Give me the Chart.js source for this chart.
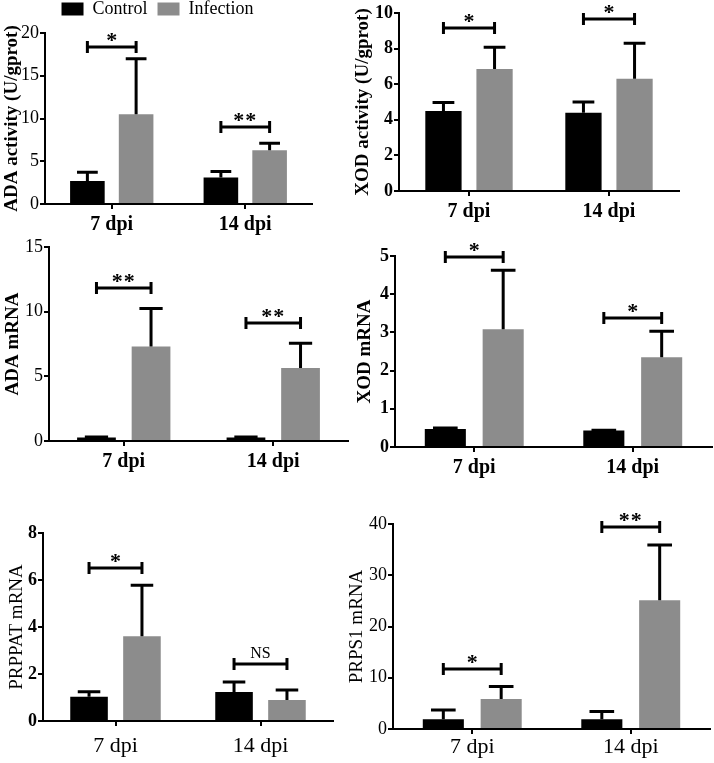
<!DOCTYPE html>
<html lang="en">
<head>
<meta charset="UTF-8">
<title>ADA, XOD, PRPPAT and PRPS1 after infection</title>
<script src="https://cdn.jsdelivr.net/npm/chart.js"></script>
<style>
  html, body { margin: 0; padding: 0; background: #fff; }
  body { width: 714px; height: 763px; position: relative; overflow: hidden; }
  canvas { position: absolute; }
</style>
</head>
<body>

<canvas id="adaAct"></canvas>
<canvas id="xodAct"></canvas>
<canvas id="adaMrna"></canvas>
<canvas id="xodMrna"></canvas>
<canvas id="prppat"></canvas>
<canvas id="prps1"></canvas>

<script>
const categories = ['7 dpi', '14 dpi'];
const groups = ['Control', 'Infection'];

// ADA activity (U/gprot)
const adaActControl = [2.7, 3.1];
const adaActControlSd = [1.0, 0.7];
const adaActInfection = [10.5, 6.3];
const adaActInfectionSd = [6.5, 0.8];
const adaActSigAt = [18.4, 9.0];
const adaActSig = ['*', '**'];
const adaActTicks = [0, 5, 10, 15, 20];

// XOD activity (U/gprot)
const xodActControl = [4.5, 4.4];
const xodActControlSd = [0.47, 0.6];
const xodActInfection = [6.86, 6.3];
const xodActInfectionSd = [1.22, 2.0];
const xodActSigAt = [9.18, 9.64];
const xodActSig = ['*', '*'];
const xodActTicks = [0, 2, 4, 6, 8, 10];

// ADA mRNA
const adaMrnaControl = [0.28, 0.28];
const adaMrnaControlSd = [0.03, 0.03];
const adaMrnaInfection = [7.3, 5.65];
const adaMrnaInfectionSd = [2.95, 1.9];
const adaMrnaSigAt = [11.8, 9.1];
const adaMrnaSig = ['**', '**'];
const adaMrnaTicks = [0, 5, 10, 15];

// XOD mRNA
const xodMrnaControl = [0.47, 0.43];
const xodMrnaControlSd = [0.03, 0.01];
const xodMrnaInfection = [3.08, 2.35];
const xodMrnaInfectionSd = [1.55, 0.68];
const xodMrnaSigAt = [4.97, 3.39];
const xodMrnaSig = ['*', '*'];
const xodMrnaTicks = [0, 1, 2, 3, 4, 5];

// PRPPAT mRNA
const prppatControl = [1.03, 1.23];
const prppatControlSd = [0.22, 0.43];
const prppatInfection = [3.61, 0.89];
const prppatInfectionSd = [2.17, 0.43];
const prppatSigAt = [6.52, 2.41];
const prppatSig = ['*', 'NS'];
const prppatTicks = [0, 2, 4, 6, 8];

// PRPS1 mRNA
const prps1Control = [1.9, 1.9];
const prps1ControlSd = [1.8, 1.5];
const prps1Infection = [5.84, 25.1];
const prps1InfectionSd = [2.46, 10.8];
const prps1SigAt = [11.75, 39.4];
const prps1Sig = ['*', '**'];
const prps1Ticks = [0, 10, 20, 30, 40];

const SERIF = '"Liberation Serif", "Times New Roman", Times, serif';

// error bars, upward only, from the bar top to mean + sd
const errorBars = {
  id: 'errorBars',
  afterDatasetsDraw(chart) {
    const { ctx, scales: { y } } = chart;
    ctx.save();
    ctx.strokeStyle = '#000';
    ctx.lineWidth = 3;
    chart.data.datasets.forEach((ds, i) => {
      chart.getDatasetMeta(i).data.forEach((bar, j) => {
        const sd = ds.sd[j];
        if (!sd) return;
        const yTop = y.getPixelForValue(ds.data[j] + sd);
        const half = bar.width * 0.3;
        ctx.beginPath();
        ctx.moveTo(bar.x, bar.y);
        ctx.lineTo(bar.x, yTop);
        ctx.moveTo(bar.x - half, yTop);
        ctx.lineTo(bar.x + half, yTop);
        ctx.stroke();
      });
    });
    ctx.restore();
  }
};

// significance brackets between the two bars of each group
const sigBrackets = {
  id: 'sigBrackets',
  afterDatasetsDraw(chart, args, opts) {
    const { ctx, scales: { y } } = chart;
    const a = chart.getDatasetMeta(0).data;
    const b = chart.getDatasetMeta(1).data;
    ctx.save();
    ctx.strokeStyle = '#000';
    ctx.fillStyle = '#000';
    ctx.lineWidth = 3;
    opts.at.forEach((v, j) => {
      const yy = Math.round(y.getPixelForValue(v));
      const x0 = a[j].x, x1 = b[j].x;
      ctx.beginPath();
      ctx.moveTo(x0, yy); ctx.lineTo(x1, yy);
      ctx.moveTo(x0, yy - 6); ctx.lineTo(x0, yy + 6);
      ctx.moveTo(x1, yy - 6); ctx.lineTo(x1, yy + 6);
      ctx.stroke();
      const t = opts.labels[j];
      const star = t.indexOf('*') >= 0;
      ctx.font = star ? 'bold 22px ' + SERIF : '16px ' + SERIF;
      ctx.textAlign = 'center';
      ctx.textBaseline = 'alphabetic';
      ctx.letterSpacing = star && t.length > 1 ? '1px' : '0px';
      ctx.fillText(t, (x0 + x1) / 2, star ? yy : yy - 6);
    });
    ctx.restore();
  }
};

// a bit more room under the legend
const legendGap = {
  id: 'legendGap',
  beforeLayout(chart) {
    const lg = chart.legend;
    if (!lg || lg._gapPatched) return;
    const fit = lg.fit;
    lg.fit = function () { fit.call(this); this.height += 5; };
    lg._gapPatched = true;
  }
};

function makePanel(id, title, control, controlSd, infection, infectionSd, sigAt, sig, ticks, L) {
  const cv = document.getElementById(id);
  cv.width = L.width;
  cv.height = L.height;
  cv.style.left = L.left + 'px';
  cv.style.top = L.top + 'px';

  return new Chart(cv.getContext('2d'), {
    type: 'bar',
    data: {
      labels: categories,
      datasets: [
        { label: groups[0], data: control, sd: controlSd, backgroundColor: '#000' },
        { label: groups[1], data: infection, sd: infectionSd, backgroundColor: '#8c8c8c' }
      ]
    },
    options: {
      responsive: false,
      animation: false,
      layout: { padding: L.pad },
      datasets: { bar: { barPercentage: 0.71, categoryPercentage: 0.73 } },
      plugins: {
        legend: {
          display: !!L.legend,
          position: 'top',
          align: 'center',
          labels: { color: '#000', font: { family: SERIF, size: 18 }, boxWidth: 22, boxHeight: 13, padding: 10 }
        },
        tooltip: { enabled: false },
        sigBrackets: { at: sigAt, labels: sig }
      },
      scales: {
        x: {
          grid: { offset: false, drawOnChartArea: false, color: '#000', lineWidth: 2, tickLength: 5 },
          border: { color: '#000', width: 2 },
          ticks: { color: '#000', padding: L.xPad,
                   font: { family: SERIF, size: L.xSize, weight: L.xBold ? 'bold' : 'normal' } },
          afterFit: s => { s.height = L.xh; }
        },
        y: {
          min: ticks[0],
          max: ticks[ticks.length - 1],
          ticks: { stepSize: ticks[1] - ticks[0], color: '#000', padding: 1,
                   font: { family: SERIF, size: 18, weight: L.tickBold ? 'bold' : 'normal', lineHeight: 1 } },
          grid: { drawOnChartArea: false, color: '#000', lineWidth: 2, tickLength: 5 },
          border: { color: '#000', width: 2 },
          title: { display: true, text: title, color: '#000', padding: 0,
                   font: { family: SERIF, size: 19, weight: L.titleBold ? 'bold' : 'normal', lineHeight: 1 } },
          afterFit: s => { s.width = L.yw; }
        }
      }
    },
    plugins: [errorBars, sigBrackets, legendGap]
  });
}

makePanel('adaAct', 'ADA activity (U/gprot)', adaActControl, adaActControlSd, adaActInfection, adaActInfectionSd,
  adaActSigAt, adaActSig, adaActTicks,
  { left: 0, top: -10, width: 314, height: 250, pad: { left: 3, top: 0, right: 2, bottom: 0 },
    yw: 42, xh: 36, xPad: 4, xSize: 20, xBold: true, tickBold: false, titleBold: true, legend: true });

makePanel('xodAct', 'XOD activity (U/gprot)', xodActControl, xodActControlSd, xodActInfection, xodActInfectionSd,
  xodActSigAt, xodActSig, xodActTicks,
  { left: 350, top: -6, width: 332, height: 233, pad: { left: 4, top: 14, right: 3, bottom: 0 },
    yw: 45, xh: 36, xPad: 4, xSize: 20, xBold: true, tickBold: true, titleBold: true });

makePanel('adaMrna', 'ADA mRNA', adaMrnaControl, adaMrnaControlSd, adaMrnaInfection, adaMrnaInfectionSd,
  adaMrnaSigAt, adaMrnaSig, adaMrnaTicks,
  { left: 0, top: 228, width: 350, height: 249, pad: { left: 4, top: 14, right: 2, bottom: 0 },
    yw: 45, xh: 36, xPad: 4, xSize: 20, xBold: true, tickBold: false, titleBold: true });

makePanel('xodMrna', 'XOD mRNA', xodMrnaControl, xodMrnaControlSd, xodMrnaInfection, xodMrnaInfectionSd,
  xodMrnaSigAt, xodMrnaSig, xodMrnaTicks,
  { left: 352, top: 237, width: 362, height: 246, pad: { left: 4, top: 14, right: 2, bottom: 0 },
    yw: 39, xh: 36, xPad: 4, xSize: 20, xBold: true, tickBold: true, titleBold: true });

makePanel('prppat', 'PRPPAT mRNA', prppatControl, prppatControlSd, prppatInfection, prppatInfectionSd,
  prppatSigAt, prppatSig, prppatTicks,
  { left: 0, top: 514, width: 335, height: 249, pad: { left: 8, top: 14, right: 2, bottom: 0 },
    yw: 35, xh: 42, xPad: 7, xSize: 22, xBold: false, tickBold: true, titleBold: false });

makePanel('prps1', 'PRPS1 mRNA', prps1Control, prps1ControlSd, prps1Infection, prps1InfectionSd,
  prps1SigAt, prps1Sig, prps1Ticks,
  { left: 344, top: 505, width: 369, height: 258, pad: { left: 4, top: 14, right: 3, bottom: 0 },
    yw: 45, xh: 34, xPad: 0, xSize: 22, xBold: false, tickBold: false, titleBold: false });
</script>

</body>
</html>
